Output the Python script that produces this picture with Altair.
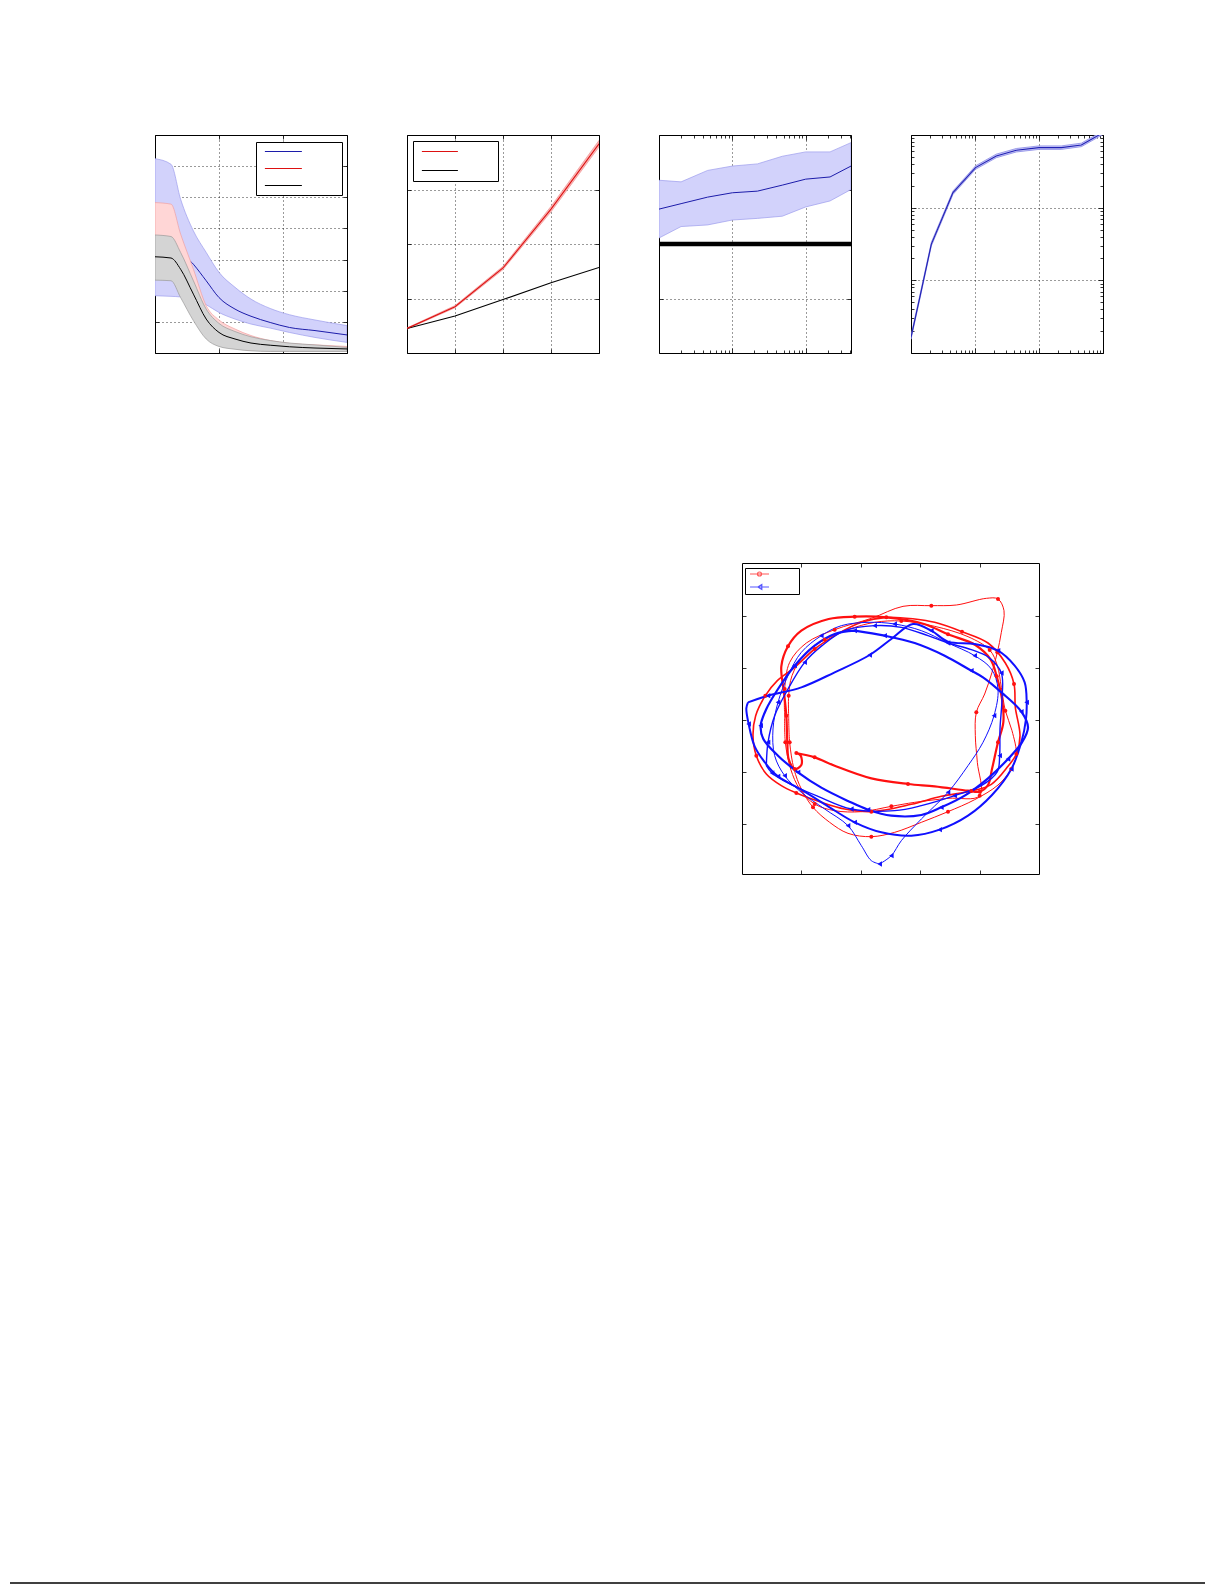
import altair as alt
import pandas as pd

# ---------------- data ----------------
# panel 1: three decaying series, mean and band
p1_x = [0, 0.25, 0.4, 0.6, 0.8, 1.0, 1.25, 1.5, 1.8, 2.1, 2.5, 3.0]
p1_blue_hi = [6.24, 6.06, 4.94, 3.92, 3.23, 2.59, 2.11, 1.73, 1.43, 1.23, 1.06, 0.88]
p1_blue_mid = [4.04, 3.98, 3.28, 2.85, 2.32, 1.78, 1.41, 1.18, 0.98, 0.82, 0.72, 0.58]
p1_blue_lo = [1.84, 1.82, 1.80, 1.72, 1.55, 1.30, 1.09, 0.93, 0.80, 0.66, 0.50, 0.34]
p1_red_hi = [4.83, 4.78, 3.82, 2.69, 1.52, 1.06, 0.77, 0.56, 0.40, 0.31, 0.26, 0.21]
p1_red_mid = [3.39, 3.33, 2.75, 1.89, 1.04, 0.66, 0.45, 0.31, 0.24, 0.20, 0.17, 0.15]
p1_red_lo = [2.40, 2.38, 1.85, 1.10, 0.50, 0.25, 0.15, 0.09, 0.07, 0.07, 0.07, 0.07]
p1_gray_hi = [3.79, 3.74, 3.23, 2.32, 1.41, 0.95, 0.69, 0.52, 0.40, 0.32, 0.26, 0.18]
p1_gray_mid = [3.09, 3.05, 2.69, 1.89, 1.09, 0.66, 0.45, 0.32, 0.25, 0.20, 0.16, 0.13]
p1_gray_lo = [2.34, 2.32, 1.78, 1.04, 0.45, 0.21, 0.12, 0.07, 0.05, 0.05, 0.05, 0.05]

# panel 2
p2_x = [0, 1, 2, 3, 4]
p2_red_mid = [0.45, 0.85, 1.56, 2.64, 3.84]
p2_red_lo = [0.44, 0.83, 1.53, 2.59, 3.78]
p2_red_hi = [0.46, 0.87, 1.59, 2.69, 3.90]
p2_black = [0.45, 0.68, 0.98, 1.29, 1.57]

# panel 3 (log x)
p3_x = [1, 2, 4.6, 10, 22, 48, 100, 215, 415]
p3_mid = [2.64, 2.74, 2.86, 2.94, 2.97, 3.08, 3.19, 3.23, 3.43]
p3_hi = [3.17, 3.14, 3.35, 3.43, 3.47, 3.61, 3.69, 3.69, 3.86]
p3_lo = [2.11, 2.32, 2.35, 2.44, 2.47, 2.51, 2.68, 2.79, 3.00]
p3_level = [2.0]

# panel 4 (log x, log y)
p4_x = [1, 1.37, 2.08, 4.53, 10.2, 21.5, 44.2, 100, 223, 459, 1000]
p4_mid = [1.64, 5.8, 31.5, 161, 356, 515, 617, 670, 670, 730, 1075]
p4_lo = [1.55, 5.45, 29.7, 152, 337, 487, 584, 634, 634, 691, 1017]
p4_hi = [1.74, 6.15, 33.4, 170, 376, 545, 652, 708, 708, 772, 1137]

# trajectory panel (arbitrary position units)
red_loop_1 = [(150,480),(150,400),(165,320),(215,262),(300,222),(410,188),(505,152),(590,150),(665,148),(755,128),(790,130),(808,165),(800,230),(788,290),(772,350),(750,415),(725,470),(722,540),(728,620),(735,720),(640,728),(540,740),(470,752),(380,768),(300,765),(240,745),(195,700),(168,640),(152,560),(150,480)]
red_loop_2 = [(162,480),(165,560),(178,640),(200,700),(235,755),(285,800),(340,833),(410,843),(480,830),(560,800),(640,768),(720,732),(790,688),(830,640),(845,598),(832,525),(812,465),(800,395),(788,330),(765,283),(700,243),(600,212),(500,196),(420,200),(340,222),(270,252),(210,295),(172,360),(162,420),(162,480)]
red_loop_3 = [(185,592),(240,605),(300,630),(410,668),(520,685),(600,692),(700,705),(735,708),(760,688),(772,640),(790,560),(806,500),(802,430),(786,362),(768,312),(722,268),(640,236),(568,205),(455,185),(360,183),(282,190),(200,225),(160,272),(140,332),(148,410),(155,480),(158,560),(162,610),(180,640),(200,628),(198,600),(185,592)]
red_loop_4 = [(300,240),(240,280),(180,335),(128,375),(92,420),(63,480),(55,540),(65,600),(95,655),(140,690),(185,712),(260,740),(330,760),(410,768),(530,746),(620,722),(710,706),(770,686),(820,632),(845,595),(856,540),(842,455),(838,385),(812,322),(760,262),(682,228),(600,200),(540,190),(455,185),(380,200),(300,240)]
blue_loop_1 = [(360,225),(450,240),(540,262),(630,300),(710,345),(745,365),(800,410),(860,468),(880,515),(862,560),(820,610),(760,668),(690,720),(620,755),(560,778),(470,780),(400,762),(340,736),(260,696),(190,650),(130,600),(86,550),(78,510),(95,460),(130,400),(180,330),(240,270),(300,235),(360,225)]
blue_loop_2 = [(40,440),(100,420),(200,395),(300,350),(405,298),(470,250),(535,205),(590,225),(640,258),(720,265),(790,285),(840,330),(870,380),(876,440),(874,490),(860,560),(830,640),(772,718),(700,780),(615,822),(530,840),(440,830),(360,800),(280,752),(200,702),(130,662),(92,622),(60,572),(42,505),(35,458),(40,440)]
blue_loop_3 = [(435,925),(470,900),(500,855),(560,790),(640,710),(700,630),(745,560),(778,480),(790,400),(770,340),(720,300),(640,262),(560,225),(480,205),(400,200),(320,210),(260,240),(200,290),(160,360),(130,440),(115,520),(120,600),(150,660),(200,710),(270,760),(340,810),(380,870),(410,915),(435,925)]
blue_loop_4 = [(95,630),(100,560),(120,480),(160,400),(210,320),(262,270),(330,225),(420,210),(500,215),(580,240),(640,262),(710,282),(762,305),(800,352),(802,430),(796,520),(795,600),(788,648),(740,690),(660,720),(560,750),(480,765),(350,760),(250,722),(160,682),(112,652),(95,630)]
traj_loops = [("r1", "r", 1.0, red_loop_1), ("r2", "r", 1.0, red_loop_2),
              ("r3", "r", 2.2, red_loop_3), ("r4", "r", 1.6, red_loop_4),
              ("b3", "b", 1.0, blue_loop_3), ("b4", "b", 1.4, blue_loop_4),
              ("b1", "b", 2.2, blue_loop_1), ("b2", "b", 2.0, blue_loop_2)]

# ---------------- style ----------------
W, H = 192, 218
TW, TH = 297, 311
BLUE_LINE = '#1c1caa'
BLUE_FILL = '#d2d2fb'
BLUE_EDGE = '#9c9cec'
RED_LINE = '#dd1111'
PINK_FILL = '#ffd6d6'
PINK_EDGE = '#f0a0a0'
GRAY_FILL = '#d4d4d4'
GRAY_EDGE = '#9a9a9a'
TRAJ_RED = '#ff1010'
TRAJ_BLUE = '#1010ff'


def cond(vals, a, b):
    return {"condition": {"test": "indexof(%s, datum.value) >= 0" % list(vals), "value": a}, "value": b}


def axes4(xvals, yvals, xgrid, ygrid, w, h, xmajor=None, ymajor=None, grid=True):
    base = dict(labels=False, domain=False, title=None, tickColor='black', tickWidth=0.8)

    def ts(major):
        return cond(major, 5, 3) if major is not None else 4

    def gk(vals):
        if not grid:
            return dict(grid=False)
        return dict(grid=True, gridColor='black', gridDash=[1, 3], gridWidth=0.8,
                    gridOpacity=cond(vals, 1, 0))

    xa = alt.Axis(orient='top', offset=-h, values=xvals, tickSize=ts(xmajor), **gk(xgrid), **base)
    xb = alt.Axis(orient='bottom', offset=-h, values=xvals, tickSize=ts(xmajor), grid=False, **base)
    ya = alt.Axis(orient='right', offset=-w, values=yvals, tickSize=ts(ymajor), **gk(ygrid), **base)
    yb = alt.Axis(orient='left', offset=-w, values=yvals, tickSize=ts(ymajor), grid=False, **base)
    return xa, xb, ya, yb


def blank_legend(x, y, pad, size, off, fs, rp, stype=None):
    kw = dict(orient='none', legendX=x, legendY=y, title=None, strokeColor='black',
              fillColor='white', padding=pad, symbolSize=size, symbolStrokeWidth=1.2,
              labelExpr="''", labelOffset=off, labelFontSize=fs, rowPadding=rp)
    if stype:
        kw['symbolType'] = stype
    return alt.Legend(**kw)


# ---------------- panel 1 ----------------
n1 = len(p1_x)
df1 = pd.DataFrame({
    'x': p1_x * 3,
    's': ['b'] * n1 + ['r'] * n1 + ['k'] * n1,
    'lo': p1_blue_lo + p1_red_lo + p1_gray_lo,
    'mid': p1_blue_mid + p1_red_mid + p1_gray_mid,
    'hi': p1_blue_hi + p1_red_hi + p1_gray_hi,
})
xs1 = alt.Scale(domain=[0, 3], nice=False, zero=False)
ys1 = alt.Scale(domain=[0, 7], nice=False, zero=False)
a1 = axes4([0, 1, 2, 3], list(range(8)), [1, 2], [1, 2, 3, 4, 5, 6], W, H)
col1 = alt.Scale(domain=['b', 'r', 'k'], range=[BLUE_LINE, RED_LINE, '#000000'])
leg1 = blank_legend(101, 7, 4, 85, 66.8, 10, 6, "M-0.13,0H7.89")
layers1 = []
for j, (s, f, e) in enumerate([('b', BLUE_FILL, BLUE_EDGE), ('r', PINK_FILL, PINK_EDGE), ('k', GRAY_FILL, GRAY_EDGE)]):
    xa_, ya_ = (a1[0], a1[2]) if j == 0 else (None, None)
    xb_, yb_ = (a1[1], a1[3]) if j == 0 else (None, None)
    b = alt.Chart(df1).transform_filter(alt.datum.s == s)
    layers1.append(b.mark_area(fill=f, stroke=e, strokeWidth=0.7, opacity=1, interpolate='monotone', clip=True).encode(
        x=alt.X('x:Q', scale=xs1, axis=xa_), y=alt.Y('lo:Q', scale=ys1, axis=ya_), y2='hi:Q'))
    layers1.append(b.mark_line(strokeWidth=1, interpolate='monotone', clip=True).encode(
        x=alt.X('x:Q', scale=xs1, axis=xb_), y=alt.Y('mid:Q', scale=ys1, axis=yb_),
        color=alt.Color('s:N', scale=col1, legend=leg1)))
p1 = alt.layer(*layers1).resolve_axis(x='independent', y='independent').properties(width=W, height=H)

# ---------------- panel 2 ----------------
n2 = len(p2_x)
df2 = pd.DataFrame({
    'x': p2_x * 2, 's': ['r'] * n2 + ['k'] * n2,
    'lo': p2_red_lo + p2_black, 'mid': p2_red_mid + p2_black, 'hi': p2_red_hi + p2_black,
})
xs2 = alt.Scale(domain=[0, 4], nice=False, zero=False)
ys2 = alt.Scale(domain=[0, 4], nice=False, zero=False)
a2 = axes4([0, 1, 2, 3, 4], [0, 1, 2, 3, 4], [1, 2, 3], [1, 2, 3], W, H)
col2 = alt.Scale(domain=['r', 'k'], range=[RED_LINE, '#000000'])
leg2 = blank_legend(6, 6, 5, 85, 63.8, 10, 8, "M-0.35,0H7.46")
b2r = alt.Chart(df2).transform_filter(alt.datum.s == 'r')
b2k = alt.Chart(df2).transform_filter(alt.datum.s == 'k')
p2 = alt.layer(
    b2r.mark_area(fill='#f9baba', stroke='#f09090', strokeWidth=0.7, opacity=1, clip=True).encode(
        x=alt.X('x:Q', scale=xs2, axis=a2[0]), y=alt.Y('lo:Q', scale=ys2, axis=a2[2]), y2='hi:Q'),
    b2k.mark_line(strokeWidth=1.1, clip=True).encode(
        x=alt.X('x:Q', scale=xs2, axis=a2[1]), y=alt.Y('mid:Q', scale=ys2, axis=a2[3]),
        color=alt.Color('s:N', scale=col2, legend=leg2)),
    b2r.mark_line(strokeWidth=1.1, clip=True).encode(
        x=alt.X('x:Q', scale=xs2, axis=None), y=alt.Y('mid:Q', scale=ys2, axis=None),
        color=alt.Color('s:N', scale=col2, legend=leg2)),
).resolve_axis(x='independent', y='independent').properties(width=W, height=H)

# ---------------- panel 3 ----------------
df3 = pd.DataFrame({'x': p3_x, 'lo': p3_lo, 'mid': p3_mid, 'hi': p3_hi})
df3l = pd.DataFrame({'v': p3_level})
xs3 = alt.Scale(type='log', domain=[1, 415], nice=False)
ys3 = alt.Scale(domain=[0, 4], nice=False, zero=False)
ticks3 = [m * 10 ** e for e in range(2) for m in range(1, 10)] + [100, 200, 300, 400]
a3 = axes4(ticks3, [0, 1, 2, 3, 4], [10, 100], [1, 2, 3], W, H, xmajor=[1, 10, 100])
p3 = alt.layer(
    alt.Chart(df3).mark_area(fill=BLUE_FILL, stroke=BLUE_EDGE, strokeWidth=0.7, opacity=1, clip=True).encode(
        x=alt.X('x:Q', scale=xs3, axis=a3[0]), y=alt.Y('lo:Q', scale=ys3, axis=a3[2]), y2='hi:Q'),
    alt.Chart(df3).mark_line(color=BLUE_LINE, strokeWidth=1, clip=True).encode(
        x=alt.X('x:Q', scale=xs3, axis=a3[1]), y=alt.Y('mid:Q', scale=ys3, axis=a3[3])),
    alt.Chart(df3l).mark_rule(color='black', strokeWidth=4.5, clip=True).encode(
        y=alt.Y('v:Q', scale=ys3, axis=None)),
).resolve_axis(x='independent', y='independent').properties(width=W, height=H)

# ---------------- panel 4 ----------------
df4 = pd.DataFrame({'x': p4_x, 'lo': p4_lo, 'mid': p4_mid, 'hi': p4_hi})
xs4 = alt.Scale(type='log', domain=[1, 1000], nice=False)
ys4 = alt.Scale(type='log', domain=[1, 1000], nice=False)
ticks4 = [m * 10 ** e for e in range(3) for m in range(1, 10)] + [1000]
a4 = axes4(ticks4, ticks4, [10, 100], [10, 100], W, H, xmajor=[1, 10, 100, 1000], ymajor=[1, 10, 100, 1000])
p4 = alt.layer(
    alt.Chart(df4).mark_area(fill='#c9c9f6', stroke='#8a8ae6', strokeWidth=0.8, opacity=1, clip=True).encode(
        x=alt.X('x:Q', scale=xs4, axis=a4[0]), y=alt.Y('lo:Q', scale=ys4, axis=a4[2]), y2='hi:Q'),
    alt.Chart(df4).mark_line(color='#2020b4', strokeWidth=1.1, clip=True).encode(
        x=alt.X('x:Q', scale=xs4, axis=a4[1]), y=alt.Y('mid:Q', scale=ys4, axis=a4[3])),
).resolve_axis(x='independent', y='independent').properties(width=W, height=H)

# ---------------- trajectory ----------------
rows = []
for name, c, wdt, pts in traj_loops:
    for i, (px, py) in enumerate(pts):
        rows.append({'loop': name, 'c': c, 'w': wdt, 'i': i, 'x': px, 'y': py})
dft = pd.DataFrame(rows)
xst = alt.Scale(domain=[22, 913], nice=False, zero=False)
yst = alt.Scale(domain=[22, 955], nice=False, zero=False, reverse=True)
at = axes4([200, 380, 557, 735], [180, 337, 493, 648, 805], [], [], TW, TH, grid=False)
RED_SYM = "M-0.33,0H6M3.5,0A0.67,0.67,0,1,1,2.16,0A0.67,0.67,0,1,1,3.5,0"
BLUE_SYM = "M-0.33,0H6M3.6,-0.8L2.3,0L3.6,0.8Z"
legt = blank_legend(3, 5, 2, 36, 42, 8, 3)
dfleg = pd.DataFrame({'s': ['r', 'b'], 'x': [0, 0], 'y': [0, 0]})

tr_layers = []
for j, c, col in [(0, 'r', TRAJ_RED), (1, 'b', TRAJ_BLUE)]:
    xa_ = at[0] if j == 0 else at[1]
    ya_ = at[2] if j == 0 else at[3]
    tr_layers.append(alt.Chart(dft).transform_filter(alt.datum.c == c).mark_line(
        color=col, interpolate='catmull-rom', clip=True).encode(
        x=alt.X('x:Q', scale=xst, axis=xa_), y=alt.Y('y:Q', scale=yst, axis=ya_),
        detail='loop:N', order='i:Q', strokeWidth=alt.StrokeWidth('w:Q', scale=None)))
tr_layers.append(alt.Chart(dft).transform_filter((alt.datum.c == 'r') & (alt.datum.i % 3 == 1)).mark_point(
    filled=True, shape='circle', size=16, color=TRAJ_RED, opacity=1, clip=True).encode(
    x=alt.X('x:Q', scale=xst, axis=None), y=alt.Y('y:Q', scale=yst, axis=None)))
tr_layers.append(alt.Chart(dft).transform_filter((alt.datum.c == 'b') & (alt.datum.i % 3 == 1)).mark_point(
    filled=True, shape='triangle-left', size=28, color=TRAJ_BLUE, opacity=1, clip=True).encode(
    x=alt.X('x:Q', scale=xst, axis=None), y=alt.Y('y:Q', scale=yst, axis=None)))
tr_layers.append(alt.Chart(dfleg).mark_point(clip=True).encode(
    x=alt.X('x:Q', scale=xst, axis=None), y=alt.Y('y:Q', scale=yst, axis=None),
    color=alt.Color('s:N', scale=alt.Scale(domain=['r', 'b'], range=[TRAJ_RED, TRAJ_BLUE]), legend=legt),
    shape=alt.Shape('s:N', scale=alt.Scale(domain=['r', 'b'], range=[RED_SYM, BLUE_SYM]), legend=legt)))
traj = alt.layer(*tr_layers).resolve_axis(x='independent', y='independent').properties(width=TW, height=TH)

# ---------------- layout ----------------
def spacer(w, h=1):
    return alt.Chart(pd.DataFrame({'v': [0]})).mark_point(opacity=0, size=0).encode(
        x=alt.X('v:Q', axis=None), y=alt.Y('v:Q', axis=None)).properties(
        width=w, height=h, view=alt.ViewBackground(stroke='transparent'))


df_rule = pd.DataFrame({'a': [0.0], 'b': [1.0], 'y': [0.0]})
rule = alt.Chart(df_rule).mark_rule(color='black', strokeWidth=1.5).encode(
    x=alt.X('a:Q', scale=alt.Scale(domain=[0, 1]), axis=None), x2='b:Q',
    y=alt.Y('y:Q', scale=alt.Scale(domain=[0, 1]), axis=None)).properties(
    width=1195, height=1, view=alt.ViewBackground(stroke='transparent'))

# flush layout: nested concat groups count as zero height, so the vertical
# spacing is measured from the top of the previous row
res = dict(color='independent', shape='independent')
row1 = alt.hconcat(spacer(85), p1, p2, p3, p4, spacing=60, bounds='flush').resolve_scale(**res)
row2 = alt.hconcat(spacer(732), traj, spacing=0, bounds='flush').resolve_scale(**res)
top = alt.vconcat(row1, row2, spacing=428, bounds='flush').resolve_scale(**res)
chart = alt.vconcat(top, rule, spacing=1447, bounds='flush').resolve_scale(**res).properties(
    padding={'left': 0, 'top': 126, 'right': 0, 'bottom': 0}, background='white'
).configure_view(stroke='black', strokeWidth=1)

chart.save("out.html", embed_options={"renderer": "svg", "actions": False})
